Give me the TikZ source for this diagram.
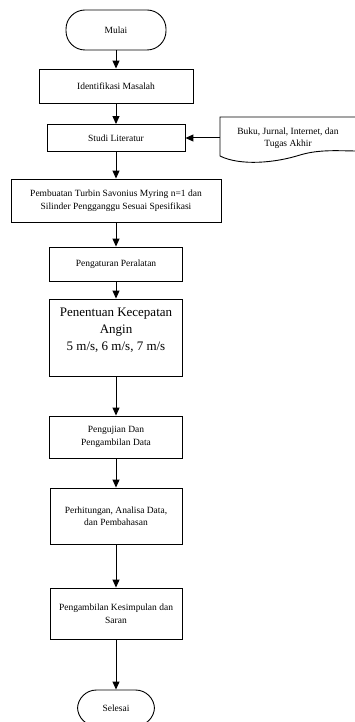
\documentclass[tikz,border=0pt]{standalone}
\usepackage{fontspec}
\setmainfont{Liberation Serif}
\usetikzlibrary{arrows.meta,positioning}
\newcommand{\smalltxt}{\fontsize{9.5}{12.5}\selectfont}
\newcommand{\bigtxt}{\fontsize{13}{17}\selectfont}

\begin{document}
\begin{tikzpicture}[x=1pt,y=-1pt]
\tikzset{
  termnode/.style={draw,line width=0.9pt,rounded corners=19pt,inner sep=1pt,font=\smalltxt},
  procnode/.style={draw,line width=0.9pt,inner sep=1pt,align=center,font=\smalltxt},
  refnode/.style={inner sep=1pt,align=center,font=\smalltxt},
  flow/.style={-{Stealth[length=8pt,width=7pt,inset=0pt]},line width=1pt}
}
\useasboundingbox (0,0) rectangle (355,722);
\node[termnode,minimum width=100pt,minimum height=40pt] (n_Mulai) at (116,30) {Mulai};
\node[procnode,minimum width=154pt,minimum height=34pt] (n_Ident) at (116,86) {Identifikasi Masalah};
\node[procnode,minimum width=138pt,minimum height=27pt] (n_Studi) at (116,138) {Studi Literatur};
\node[refnode,minimum width=136pt,minimum height=34pt] (n_Ref) at (288,138) {Buku, Jurnal, Internet, dan\\Tugas Akhir};
\node[procnode,minimum width=210pt,minimum height=43pt] (n_Buat) at (116,200.5) {Pembuatan Turbin Savonius Myring n=1 dan\\Silinder Pengganggu Sesuai Spesifikasi};
\node[procnode,minimum width=133pt,minimum height=34pt] (n_Atur) at (116,264) {Pengaturan Peralatan};
\node[procnode,minimum width=133pt,minimum height=77pt,font=\bigtxt] (n_Tentu) at (116,337.5) {Penentuan Kecepatan\\Angin\\5 m/s, 6 m/s, 7 m/s\\\mbox{}};
\node[procnode,minimum width=133pt,minimum height=42pt] (n_Uji) at (116,437) {Pengujian Dan\\Pengambilan Data};
\node[procnode,minimum width=132pt,minimum height=56pt] (n_Hitung) at (116,516) {Perhitungan, Analisa Data,\\dan Pembahasan};
\node[procnode,minimum width=132pt,minimum height=51pt] (n_Simpul) at (116,613.5) {Pengambilan Kesimpulan dan\\Saran};
\node[termnode,minimum width=77pt,minimum height=36pt] (n_Selesai) at (116,708) {Selesai};
% document outline
\draw[line width=0.9pt] (358,117) -- (220,117) -- (220,156)
  .. controls (240,166) and (275,163) .. (300,155)
  .. controls (320,149) and (340,151) .. (358,151);
\draw[flow] (n_Mulai) -- (n_Ident);
\draw[flow] (n_Ident) -- (n_Studi);
\draw[flow] (n_Ref) -- (n_Studi);
\draw[flow] (n_Studi) -- (n_Buat);
\draw[flow] (n_Buat) -- (n_Atur);
\draw[flow] (n_Atur) -- (n_Tentu);
\draw[flow] (n_Tentu) -- (n_Uji);
\draw[flow] (n_Uji) -- (n_Hitung);
\draw[flow] (n_Hitung) -- (n_Simpul);
\draw[flow] (n_Simpul) -- (n_Selesai);
\end{tikzpicture}
\end{document}
